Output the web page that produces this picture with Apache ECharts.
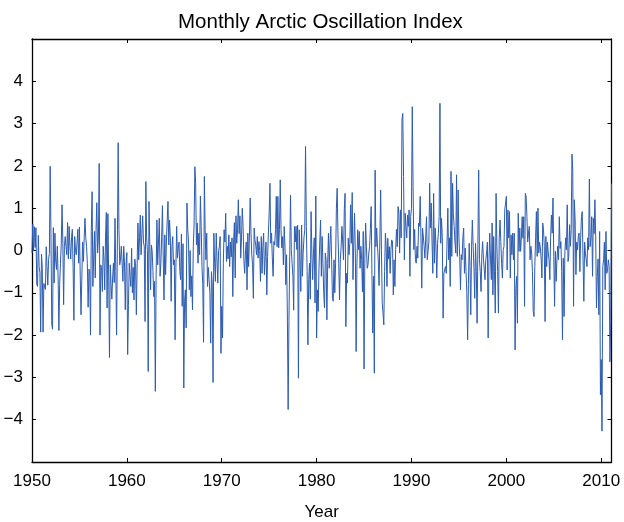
<!DOCTYPE html>
<html>
<head>
<meta charset="utf-8">
<script src="https://cdn.jsdelivr.net/npm/echarts@6/dist/echarts.min.js"></script>
<style>
  html, body { margin: 0; padding: 0; background: #fff; }
  #chart { width: 624px; height: 522px; }
</style>
</head>
<body>
<div id="chart"></div>
<script>
// monthly AO index, one row per year (Jan..Dec)
const startYear = 1950
const ao1950s = [
  -0.06, 0.63, -0.01, 0.56, 0.07, 0.54, -0.80, -0.85, 0.36, -0.38, -0.52, -1.93,
  -0.09, -0.40, -1.93, -0.78, -0.86, -0.92, 0.09, -0.38, -0.82, -0.21, -0.07, 1.99,
  0.37, -1.75, -1.86, 0.54, -0.77, 0.41, -0.25, -0.45, 0.10, -0.60, -1.89, -0.80,
  -0.30, 0.15, 1.08, 0.20, -1.28, 0.10, 0.33, 0.10, -0.10, 0.66, -0.20, 0.57,
  0.10, -0.20, 0.30, 0.50, -0.40, -1.65, 0.33, 0.00, -0.10, 0.20, 0.50, -0.30,
  0.55, -0.60, -1.52, -1.56, 0.20, -0.26, 0.30, 0.76, 0.30, 0.10, -0.30, -1.34,
  -0.44, -0.50, -2.00, 0.45, 1.39, -0.85, -0.20, 0.45, -0.65, 0.50, 1.13, -0.06,
  0.30, 2.06, -2.00, -0.34, -0.40, -0.97, 0.10, -0.20, -0.93, 0.30, 0.90, -1.36,
  0.87, -0.60, -2.53, -0.34, -0.80, -1.15, -0.65, -0.30, -0.76, 0.76, -0.50, -2.00,
  0.20, 2.55, 0.50, -0.34, -0.20, 0.10, -0.30, -0.73, 0.10, -0.26, -1.40, -0.30
]
const ao1960s = [
  -0.05, -2.46, -1.30, -0.30, -0.60, -0.85, 0.05, -1.00, -0.40, -1.17, -0.20, -0.35,
  -1.52, -0.30, 0.65, -0.22, 0.30, 0.84, -0.10, 0.40, 0.82, 0.20, 0.10, -1.68,
  1.63, 0.30, 0.00, -2.86, 1.16, 0.10, -0.93, 0.13, -0.02, -0.50, -1.09, -0.73,
  -3.33, -0.60, 0.72, -0.34, 0.20, 0.76, -0.61, -0.30, 0.30, 1.06, -0.20, -1.17,
  0.37, -0.57, 0.20, 0.72, 1.16, 0.13, 0.72, 0.30, -1.20, 0.10, 0.33, -0.34,
  -0.22, -2.11, -0.40, 0.57, -0.18, 0.05, 0.20, -0.50, -0.69, 0.39, -1.32, 0.16,
  -3.25, -1.20, -0.93, -1.83, 1.12, 0.50, 0.20, -0.93, 0.00, -1.09, -0.60, -1.40,
  0.09, 0.60, 1.98, 1.59, 0.13, 0.65, -0.30, 0.41, -0.10, 1.29, 0.57, -0.38,
  -0.80, -2.17, 1.75, 0.50, -0.22, 0.41, -0.85, -0.40, -0.69, -1.00, -2.19, -0.50,
  -0.79, -3.12, 0.41, -0.30, -0.73, 0.41, -0.20, -0.77, 0.00, 0.09, 0.33, -2.43
]
const ao1970s = [
  -1.32, -2.07, -0.30, 0.49, 0.20, 0.88, -0.26, 0.10, -0.20, 0.37, -0.38, 0.20,
  -0.15, 0.30, -1.09, 0.20, 0.66, -0.65, 0.82, 0.17, 0.50, 1.20, 0.40, 0.82,
  -0.18, 0.30, 1.00, 0.57, -0.22, -0.54, -0.06, 0.20, -0.93, 0.41, -0.38, 0.30,
  1.24, 0.41, -0.10, -0.34, -1.13, 0.53, 0.25, 0.13, -0.10, 0.33, -0.18, 0.21,
  0.00, -0.73, 0.33, -0.54, 0.10, 0.41, -0.57, -0.14, 0.20, -1.05, -0.14, 0.41,
  0.90, 1.59, 0.17, 0.41, -0.20, -0.61, 0.21, 0.13, 0.50, 1.28, 0.09, 1.28,
  0.06, 0.50, 1.67, 0.49, 0.06, 0.33, -0.34, 0.57, 0.10, -0.81, -0.10, -1.50,
  -3.76, -1.65, -0.14, 1.31, 0.02, -0.30, -0.61, -1.41, 0.57, 0.20, 0.57, 0.02,
  0.60, -3.02, 0.49, -0.20, -0.97, 0.60, -0.61, -0.06, 0.30, 0.49, 2.46, 0.57,
  -0.50, -2.23, -0.69, -0.30, -1.15, 0.92, -0.06, -0.69, -0.06, 0.30, -1.24, 1.29
]
const ao1980s = [
  -2.07, -0.93, -1.44, -0.42, 0.20, 0.72, -0.61, 0.33, -0.30, -1.00, -1.36, -0.06,
  -0.22, -1.64, -0.30, 0.41, -0.42, 0.20, 0.57, -0.22, -1.13, -1.20, -0.22, -1.00,
  -0.30, 1.00, 1.47, 0.41, -0.30, -1.17, -0.22, 0.09, 0.57, 0.20, -0.22, 0.96,
  1.35, -1.80, -0.54, -0.77, 0.29, -0.10, 0.17, 1.08, 0.17, 1.37, -0.69, 0.20,
  0.88, -0.06, -2.39, -0.30, 0.49, 0.02, 0.45, -0.42, 0.10, -0.22, -0.98, 0.45,
  -2.80, -0.22, 0.65, 0.10, -0.42, -0.34, -0.06, 0.09, 0.50, 1.04, -0.57, -1.95,
  -0.61, -2.90, 1.90, 0.09, 0.53, 0.10, -0.22, -0.83, 0.25, 1.43, 0.02, -1.24,
  -1.48, -1.76, -0.50, 0.41, 0.09, -0.85, 0.29, -0.20, 0.09, -0.54, 0.02, 0.25,
  0.20, -1.05, -0.22, -0.85, 0.02, 0.50, 0.09, 1.04, 0.88, -0.06, 0.96, 0.30,
  3.10, 3.24, 1.75, -0.22, 0.88, 0.57, 0.30, 0.84, 0.57, 0.96, -0.61, 0.80
]
const ao1990s = [
  1.00, 3.40, 1.51, 0.02, 0.50, -0.22, -0.30, 0.10, -0.18, 0.65, 0.57, 1.28,
  0.30, -0.89, 0.53, 0.49, 0.10, -0.18, -0.14, 0.80, -0.22, -0.26, 0.20, 1.59,
  0.53, 1.12, 0.20, -0.54, 1.35, -0.30, 0.53, 0.10, -0.65, 0.17, 0.40, 0.80,
  3.48, 0.17, 0.76, 0.30, -1.60, -0.54, -0.50, -0.38, -0.54, 0.20, 1.00, -0.22,
  0.30, -0.85, 1.87, -0.14, 1.59, 0.84, 0.57, 0.20, -0.06, 1.79, -0.14, 1.43,
  0.30, -0.14, -0.93, -0.10, -0.22, 0.30, 0.53, -0.54, 0.06, -0.50, -1.00, -2.11,
  -0.80, 0.17, -0.38, -1.52, 0.09, 0.72, 0.09, -0.40, -1.13, 0.17, -0.50, -1.72,
  0.17, 1.90, -0.22, -0.50, -0.97, -0.10, 0.21, -0.18, -0.20, -0.69, -0.22, -0.06,
  0.20, -2.07, -0.22, 0.41, -0.20, -0.69, 0.65, -1.05, 0.33, -0.50, -1.48, 1.35,
  0.09, -0.50, -1.48, 0.29, 0.72, 0.21, -0.30, -0.65, 0.02, 0.09, 0.96, 1.12
]
const ao2000s = [
  1.28, -0.46, 0.96, 0.30, 0.92, -0.65, 0.37, -0.10, 0.41, -0.22, 0.41, -2.35,
  -0.90, -0.61, -1.72, 0.88, -0.02, 0.53, -0.02, 0.30, 0.80, 0.29, 0.80, -1.32,
  1.35, 1.28, 0.80, 0.20, 0.41, 0.57, -0.22, 0.10, -0.06, -0.50, -1.44, -1.56,
  -0.38, 0.30, 0.92, -0.14, 1.00, -0.06, 0.20, 0.06, -0.18, -0.65, 0.65, 0.49,
  0.10, -1.68, 0.33, -0.38, 0.20, -0.06, -0.22, -0.69, 0.30, 0.84, 0.41, 1.24,
  -0.14, -1.32, -0.02, -0.73, -0.22, 0.10, -0.22, 0.80, 0.05, 0.21, -0.50, -2.11,
  -0.18, -1.56, -0.06, 0.30, 0.02, 1.08, -0.26, -0.14, 0.61, 0.10, 0.49, 2.28,
  1.90, -1.32, 1.20, 0.72, -0.57, 0.20, 0.02, 0.33, 0.41, -0.50, 0.30, 0.80,
  0.92, -0.22, -1.20, 0.20, -0.06, -0.10, -0.38, 0.30, 0.02, 1.69, 0.09, 0.30,
  0.80, -0.61, 0.76, 0.40, 1.20, 0.33, -1.36, -0.61, -0.20, -1.52, 0.45, -3.41
]
const ao2010s = [
  -2.58, -4.27, -0.38, -0.22, 0.20, -0.93, 0.45, -0.54, -0.46, -0.22, -0.38, -2.63,
  -1.68, 1.58
]

const xTicks = [1950, 1960, 1970, 1980, 1990, 2000, 2010]
const yTicks = [-4, -3, -2, -1, 0, 1, 2, 3, 4]

const monthly = [].concat(ao1950s, ao1960s, ao1970s, ao1980s, ao1990s, ao2000s, ao2010s)
// time axis in fractional years, one step per month
const seriesData = monthly.map((v, i) => [startYear + i / 12, v])
const xMax = startYear + (monthly.length - 1) / 12

const font = "'Liberation Sans', Helvetica, Arial, sans-serif"
const axisLine = { show: true, onZero: false, lineStyle: { color: '#000', width: 1.3 } }
const axisTick = { show: true, inside: true, length: 4, lineStyle: { color: '#000', width: 1 } }

const chart = echarts.init(document.getElementById('chart'))
chart.setOption({
  animation: false,
  backgroundColor: '#fff',
  title: {
    text: 'Monthly Arctic Oscillation Index',
    left: 173,
    top: 7,
    textStyle: { fontFamily: font, fontSize: 20.5, fontWeight: 'normal', color: '#000' }
  },
  grid: { left: 32, right: 12.5, top: 39, bottom: 60, containLabel: false, outerBoundsMode: 'none' },
  xAxis: [
    {
      type: 'value', position: 'bottom', min: startYear, max: xMax, interval: 10,
      axisLine, axisTick, splitLine: { show: false },
      axisLabel: {
        margin: 11, fontSize: 17, fontFamily: font, color: '#000',
        formatter: v => (xTicks.includes(v) ? String(v) : '')
      },
      name: 'Year', nameLocation: 'middle', nameGap: 42,
      nameTextStyle: { fontSize: 17, fontFamily: font, color: '#000' }
    },
    {
      type: 'value', position: 'top', min: startYear, max: xMax, interval: 10,
      axisLine, axisTick, axisLabel: { show: false }, splitLine: { show: false }
    }
  ],
  yAxis: [
    {
      type: 'value', position: 'left', min: -5, max: 5, interval: 1,
      axisLine, axisTick, splitLine: { show: false },
      axisLabel: {
        margin: 9, fontSize: 17, fontFamily: font, color: '#000',
        formatter: v => (yTicks.includes(v) ? String(v).replace('-', '\u2212') : '')
      }
    },
    {
      type: 'value', position: 'right', min: -5, max: 5, interval: 1,
      axisLine, axisTick, axisLabel: { show: false }, splitLine: { show: false }
    }
  ],
  series: [
    {
      type: 'line',
      data: seriesData,
      showSymbol: false,
      symbol: 'none',
      lineStyle: { color: '#2c5cb2', width: 1 },
      clip: true
    }
  ]
})
</script>
</body>
</html>
